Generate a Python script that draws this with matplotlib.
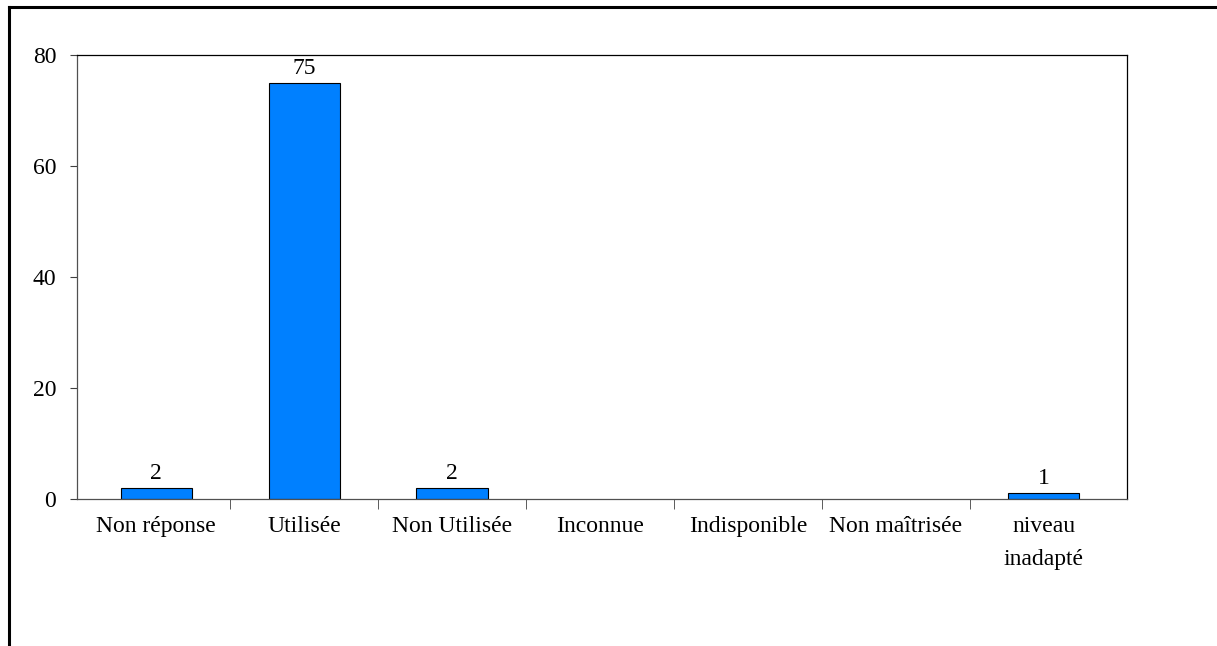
import matplotlib
matplotlib.use("Agg")
import numpy as np
import matplotlib.pyplot as plt
from matplotlib.lines import Line2D

plt.rcParams['font.family'] = ['Liberation Serif', 'DejaVu Serif']

categories = ["Non réponse", "Utilisée", "Non Utilisée", "Inconnue",
              "Indisponible", "Non maîtrisée", "niveau\ninadapté"]
values = [2, 75, 2, 0, 0, 0, 1]
y_ticks = [0, 20, 40, 60, 80]

fig = plt.figure(figsize=(12.17, 6.46), dpi=100)
ax = fig.add_axes([0.0633, 0.2276, 0.8627, 0.6873])

x = np.arange(len(categories))
bars = ax.bar(x, values, width=0.48, color="#0080FF",
              edgecolor=["black" if v else "none" for v in values],
              linewidth=0.8)
labels = [str(v) if v else "" for v in values]
ax.bar_label(bars, labels=labels, padding=3, fontsize=17)

ax.set_xlim(-0.534, 6.561)
ax.set_ylim(0, 80)
ax.set_yticks(y_ticks)
ax.set_xticks(x)
ax.set_xticklabels(categories, fontsize=17, linespacing=1.75)
ax.set_xticks(np.arange(0.5, len(categories) - 1), minor=True)
ax.tick_params(axis="x", which="major", length=0, pad=12)
ax.tick_params(axis="x", which="minor", length=7, direction="out",
               color="#404040")
ax.tick_params(axis="y", labelsize=17, length=5, direction="out",
               color="#404040", pad=10)
for side in ["left", "bottom"]:
    ax.spines[side].set_color("#505050")
    ax.spines[side].set_linewidth(0.9)
for side in ["top", "right"]:
    ax.spines[side].set_linewidth(0.9)

# outer frame (left and top edges visible)
fig.add_artist(Line2D([0.0075, 0.0075], [0, 0.989], color="black",
                      linewidth=2.2, transform=fig.transFigure))
fig.add_artist(Line2D([0.0075, 1.0], [0.989, 0.989], color="black",
                      linewidth=2.2, transform=fig.transFigure))

fig.savefig("out.png", dpi=100)
